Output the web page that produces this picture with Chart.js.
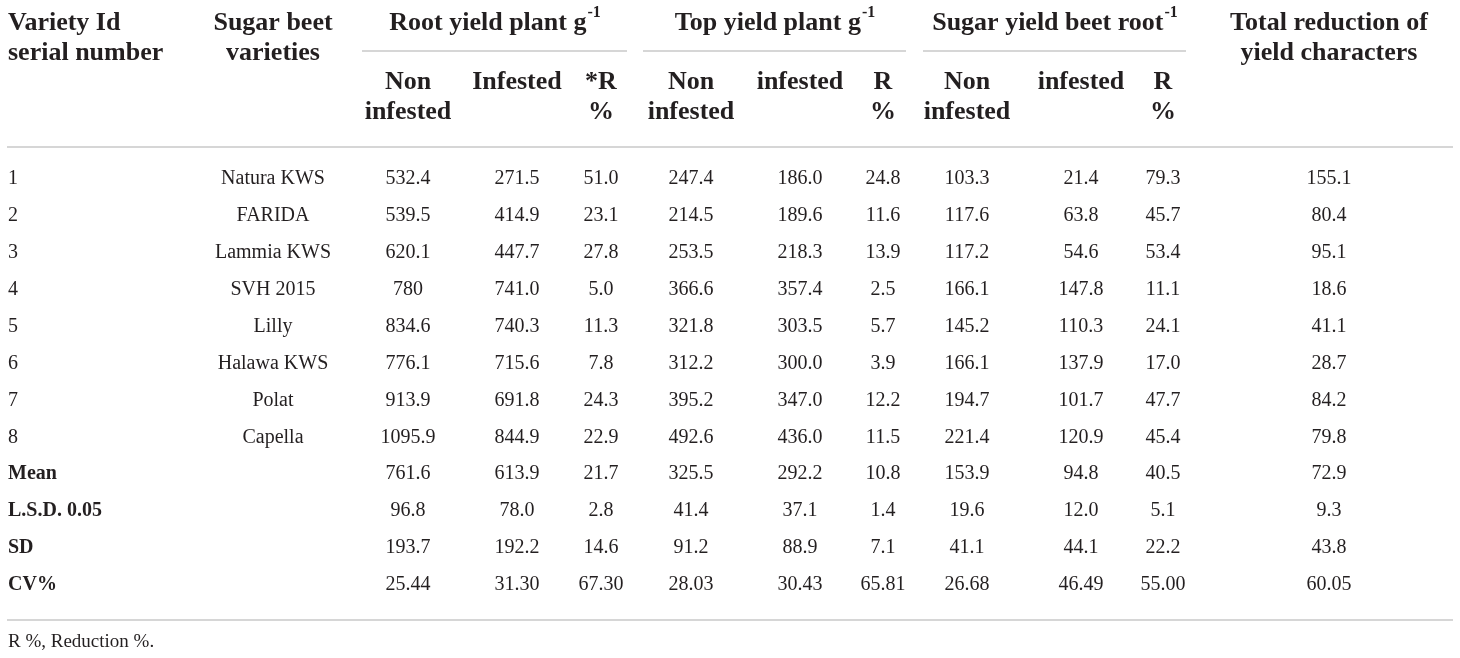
<!DOCTYPE html>
<html>
<head>
<meta charset="utf-8">
<script src="https://cdn.jsdelivr.net/npm/chart.js@4.4.1/dist/chart.umd.min.js"></script>
<style>
html, body { margin: 0; padding: 0; background: #fff; }
canvas { display: block; }
</style>
</head>
<body>
<canvas id="tableChart" width="1460" height="658"></canvas>
<script>
// row labels
const rowIds = ['1', '2', '3', '4', '5', '6', '7', '8', 'Mean', 'L.S.D. 0.05', 'SD', 'CV%'];
const varieties = ['Natura KWS', 'FARIDA', 'Lammia KWS', 'SVH 2015', 'Lilly', 'Halawa KWS', 'Polat', 'Capella', '', '', '', ''];

// Root yield plant g-1
const rootNon = ['532.4', '539.5', '620.1', '780', '834.6', '776.1', '913.9', '1095.9', '761.6', '96.8', '193.7', '25.44'];
const rootInf = ['271.5', '414.9', '447.7', '741.0', '740.3', '715.6', '691.8', '844.9', '613.9', '78.0', '192.2', '31.30'];
const rootR = ['51.0', '23.1', '27.8', '5.0', '11.3', '7.8', '24.3', '22.9', '21.7', '2.8', '14.6', '67.30'];
// Top yield plant g-1
const topNon = ['247.4', '214.5', '253.5', '366.6', '321.8', '312.2', '395.2', '492.6', '325.5', '41.4', '91.2', '28.03'];
const topInf = ['186.0', '189.6', '218.3', '357.4', '303.5', '300.0', '347.0', '436.0', '292.2', '37.1', '88.9', '30.43'];
const topR = ['24.8', '11.6', '13.9', '2.5', '5.7', '3.9', '12.2', '11.5', '10.8', '1.4', '7.1', '65.81'];
// Sugar yield beet root-1
const sugarNon = ['103.3', '117.6', '117.2', '166.1', '145.2', '166.1', '194.7', '221.4', '153.9', '19.6', '41.1', '26.68'];
const sugarInf = ['21.4', '63.8', '54.6', '147.8', '110.3', '137.9', '101.7', '120.9', '94.8', '12.0', '44.1', '46.49'];
const sugarR = ['79.3', '45.7', '53.4', '11.1', '24.1', '17.0', '47.7', '45.4', '40.5', '5.1', '22.2', '55.00'];
// Total reduction of yield characters
const totalRed = ['155.1', '80.4', '95.1', '18.6', '41.1', '28.7', '84.2', '79.8', '72.9', '9.3', '43.8', '60.05'];

// header texts
const topHeaders = [['Variety Id', 'serial number'], ['Sugar beet', 'varieties']];
const groupHeaders = [['Root yield plant g', '-1'], ['Top yield plant g', '-1'], ['Sugar yield beet root', '-1']];
const subHeaders = [['Non', 'infested'], ['Infested', ''], ['*R', '%'], ['Non', 'infested'], ['infested', ''], ['R', '%'], ['Non', 'infested'], ['infested', ''], ['R', '%']];
const totalHeader = ['Total reduction of', 'yield characters'];
const footnote = 'R %, Reduction %.';

// layout (scale units): x in px-like units, y in row units
const colX = [8, 273, 408, 517, 601, 691, 800, 883, 967, 1081, 1163, 1329];
const groupSpan = [[362, 627], [643, 906], [923, 1186]];
const headY = [-4.23, -3.415];
const groupLineY = -3.47;
const subY = [-2.63, -1.816];
const headLineY = -0.87;
const bottomLineY = 11.95;
const footY = 12.55;
const nStatRow = 8; // rows from here are bold

const columns = [rowIds, varieties, rootNon, rootInf, rootR, topNon, topInf, topR, sugarNon, sugarInf, sugarR, totalRed];

const serif = "'Liberation Serif', 'DejaVu Serif', serif";
const ink = '#231f20';
const rule = '#c9c9c9';

const datasets = columns.map((col, c) => ({
    label: 'col' + c,
    data: col.map((v, r) => ({ x: colX[c], y: r })),
    pointRadius: 0,
    showLine: false
}));

// 上标文字 (g-1)
function textSup(ctx, main, sup, cx, cy, size) {
    const supSize = Math.round(size * 0.62);
    ctx.font = 'bold ' + size + 'px ' + serif;
    const w1 = ctx.measureText(main).width;
    ctx.font = 'bold ' + supSize + 'px ' + serif;
    const w2 = ctx.measureText(sup).width;
    const x0 = cx - (w1 + w2) / 2;
    ctx.textAlign = 'left';
    ctx.font = 'bold ' + size + 'px ' + serif;
    ctx.fillText(main, x0, cy);
    ctx.font = 'bold ' + supSize + 'px ' + serif;
    ctx.fillText(sup, x0 + w1 + 1, cy - size * 0.38);
}

const tablePlugin = {
    id: 'tablePlugin',
    afterDatasetsDraw(chart) {
        const ctx = chart.ctx;
        const xs = chart.scales.x, ys = chart.scales.y;
        const left = chart.chartArea.left + 7, right = chart.chartArea.right - 7;
        ctx.save();
        ctx.fillStyle = ink;
        ctx.textBaseline = 'middle';

        // cells
        chart.data.datasets.forEach((ds, c) => {
            const meta = chart.getDatasetMeta(c);
            meta.data.forEach((pt, r) => {
                const bold = c === 0 && r >= nStatRow;
                ctx.font = (bold ? 'bold ' : '') + '20px ' + serif;
                ctx.textAlign = c === 0 ? 'left' : 'center';
                ctx.fillText(columns[c][r], pt.x, pt.y);
            });
        });

        // headers
        const hs = 26;
        ctx.font = 'bold ' + hs + 'px ' + serif;
        ctx.textAlign = 'left';
        topHeaders[0].forEach((t, i) => ctx.fillText(t, xs.getPixelForValue(colX[0]), ys.getPixelForValue(headY[i])));
        ctx.textAlign = 'center';
        topHeaders[1].forEach((t, i) => ctx.fillText(t, xs.getPixelForValue(colX[1]), ys.getPixelForValue(headY[i])));
        totalHeader.forEach((t, i) => ctx.fillText(t, xs.getPixelForValue(colX[11]), ys.getPixelForValue(headY[i])));
        groupHeaders.forEach((g, i) => {
            const cx = xs.getPixelForValue((groupSpan[i][0] + groupSpan[i][1]) / 2);
            textSup(ctx, g[0], g[1], cx, ys.getPixelForValue(headY[0]), hs);
        });
        ctx.font = 'bold ' + hs + 'px ' + serif;
        ctx.textAlign = 'center';
        subHeaders.forEach((s, i) => {
            s.forEach((t, j) => ctx.fillText(t, xs.getPixelForValue(colX[i + 2]), ys.getPixelForValue(subY[j])));
        });

        // footnote
        ctx.font = '19px ' + serif;
        ctx.textAlign = 'left';
        ctx.fillText(footnote, xs.getPixelForValue(colX[0]), ys.getPixelForValue(footY));

        // rules
        ctx.strokeStyle = rule;
        ctx.lineWidth = 1.5;
        const hline = (x1, x2, y) => {
            ctx.beginPath();
            ctx.moveTo(x1, y);
            ctx.lineTo(x2, y);
            ctx.stroke();
        };
        groupSpan.forEach(s => hline(xs.getPixelForValue(s[0]), xs.getPixelForValue(s[1]), ys.getPixelForValue(groupLineY)));
        hline(left, right, ys.getPixelForValue(headLineY));
        hline(left, right, ys.getPixelForValue(bottomLineY));
        ctx.restore();
    }
};

new Chart(document.getElementById('tableChart'), {
    type: 'scatter',
    data: { datasets: datasets },
    options: {
        responsive: false,
        animation: false,
        layout: { padding: 0 },
        scales: {
            x: { type: 'linear', display: false, min: 0, max: 1460 },
            y: { type: 'linear', display: false, min: -4.851, max: 12.98, reverse: true }
        },
        plugins: {
            legend: { display: false },
            tooltip: { enabled: false }
        }
    },
    plugins: [tablePlugin]
});
</script>
</body>
</html>
